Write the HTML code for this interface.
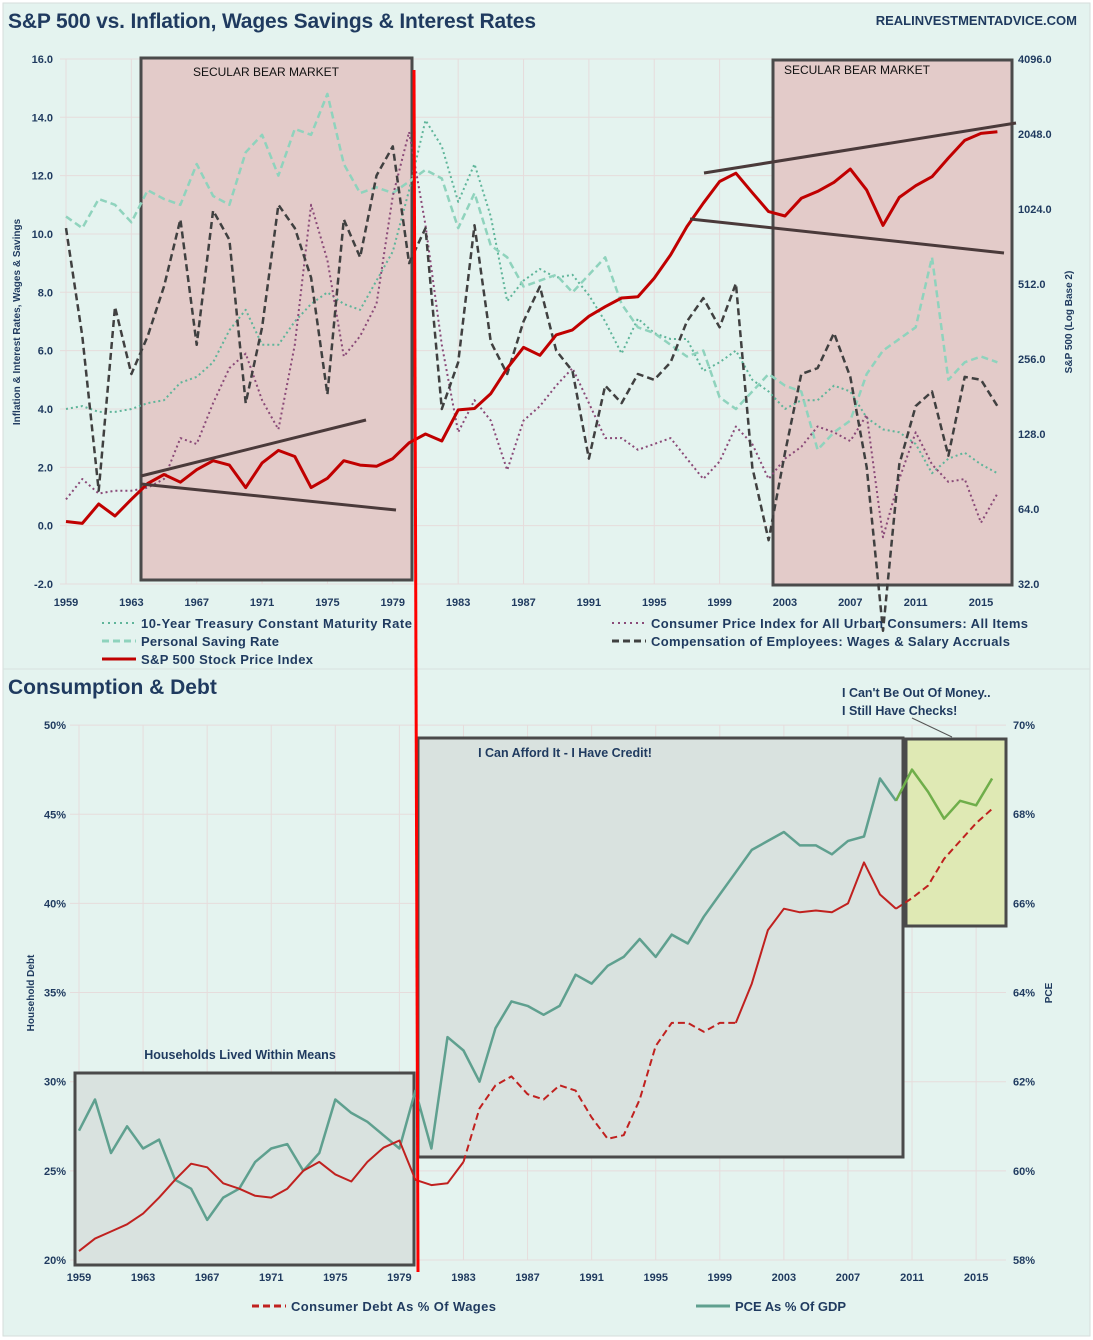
<!DOCTYPE html>
<html><head><meta charset="utf-8"><style>
body{margin:0;background:#fff;}
svg{display:block;font-family:"Liberation Sans",sans-serif;}
</style></head><body>
<svg id="c" width="1093" height="1340" viewBox="0 0 1093 1340" xmlns="http://www.w3.org/2000/svg">
<rect x="3" y="3" width="1087" height="1333" fill="#e4f3ef" stroke="#d6dedb"/>
<line x1="3" y1="669" x2="1090" y2="669" stroke="#d8e2df"/>
<text x="8" y="28" font-size="21" font-weight="bold" fill="#1f3a5f" textLength="528">S&amp;P 500 vs. Inflation, Wages Savings &amp; Interest Rates</text>
<text x="1077" y="25" font-size="13" font-weight="bold" fill="#1f3a5f" text-anchor="end">REALINVESTMENTADVICE.COM</text>
<text x="8" y="694" font-size="21" font-weight="bold" fill="#1f3a5f">Consumption &amp; Debt</text>
<g id="grid"></g>
<g id="boxes">
<rect x="141" y="58" width="271" height="522" fill="#e3cbc9" stroke="#4a4a4a" stroke-width="3"/>
<rect x="773" y="60" width="239" height="525" fill="#e3cbc9" stroke="#4a4a4a" stroke-width="3"/>
<text x="266" y="76" font-size="12" text-anchor="middle" fill="#111">SECULAR BEAR MARKET</text>
<text x="857" y="74" font-size="12" text-anchor="middle" fill="#111">SECULAR BEAR MARKET</text>
<rect x="75" y="1073" width="339" height="192" fill="#d9e2df" stroke="#4a4a4a" stroke-width="3"/>
<rect x="418" y="738" width="485" height="419" fill="#d9e2df" stroke="#4a4a4a" stroke-width="3"/>
<rect x="906" y="739" width="100" height="187" fill="#dfe9b4" stroke="#4a4a4a" stroke-width="3"/>
<text x="240" y="1059" font-size="12.5" font-weight="bold" text-anchor="middle" fill="#1f3a5f">Households Lived Within Means</text>
<text x="565" y="757" font-size="12.5" font-weight="bold" text-anchor="middle" fill="#1f3a5f">I Can Afford It - I Have Credit!</text>
<text x="842" y="697" font-size="12.5" font-weight="bold" fill="#1f3a5f">I Can't Be Out Of Money..</text>
<text x="842" y="715" font-size="12.5" font-weight="bold" fill="#1f3a5f">I Still Have Checks!</text>
<line x1="912" y1="718" x2="952" y2="737" stroke="#555"/>
</g>
<g id="series"></g>
<g id="trend">
<line x1="141" y1="476" x2="366" y2="420" stroke="#4a3a3a" stroke-width="3"/>
<line x1="141" y1="484" x2="396" y2="510" stroke="#4a3a3a" stroke-width="3"/>
<line x1="704" y1="173" x2="1016" y2="123" stroke="#4a3a3a" stroke-width="3"/>
<line x1="690" y1="219" x2="1004" y2="253" stroke="#4a3a3a" stroke-width="3"/>
</g>
<line x1="414" y1="70" x2="418" y2="1272" stroke="#ff0000" stroke-width="3"/>
<g id="axes" font-size="11" font-weight="bold" fill="#1f3a5f"></g>
<text transform="translate(20,322) rotate(-90)" font-size="10" font-weight="bold" fill="#1f3a5f" text-anchor="middle">Inflation &amp; Interest Rates, Wages &amp; Savings</text>
<text transform="translate(1072,322) rotate(-90)" font-size="10" font-weight="bold" fill="#1f3a5f" text-anchor="middle">S&amp;P 500 (Log Base 2)</text>
<text transform="translate(34,993) rotate(-90)" font-size="10" font-weight="bold" fill="#1f3a5f" text-anchor="middle">Household Debt</text>
<text transform="translate(1052,993) rotate(-90)" font-size="10" font-weight="bold" fill="#1f3a5f" text-anchor="middle">PCE</text>
<g id="legend" font-size="13" font-weight="bold" fill="#1f3a5f">
<line x1="102" y1="623" x2="136" y2="623" stroke="#5fb59a" stroke-width="2" stroke-dasharray="2,4"/>
<text x="141" y="628" textLength="271">10-Year Treasury Constant Maturity Rate</text>
<line x1="102" y1="641" x2="136" y2="641" stroke="#8fd3bd" stroke-width="3" stroke-dasharray="7,4"/>
<text x="141" y="646" textLength="138">Personal Saving Rate</text>
<line x1="102" y1="659" x2="136" y2="659" stroke="#c00000" stroke-width="3"/>
<text x="141" y="664" textLength="172">S&amp;P 500 Stock Price Index</text>
<line x1="612" y1="623" x2="646" y2="623" stroke="#8a4a78" stroke-width="2" stroke-dasharray="2,4"/>
<text x="651" y="628" textLength="377">Consumer Price Index for All Urban Consumers: All Items</text>
<line x1="612" y1="641" x2="646" y2="641" stroke="#404040" stroke-width="3" stroke-dasharray="7,4"/>
<text x="651" y="646" textLength="359">Compensation of Employees: Wages &amp; Salary Accruals</text>
<line x1="252" y1="1306" x2="286" y2="1306" stroke="#c0211f" stroke-width="3" stroke-dasharray="7,4"/>
<text x="291" y="1311" textLength="205">Consumer Debt As % Of Wages</text>
<line x1="696" y1="1306" x2="730" y2="1306" stroke="#5fa08f" stroke-width="3"/>
<text x="735" y="1311" textLength="111">PCE As % Of GDP</text>
</g>
</svg>
<script>
const years = [1959,1960,1961,1962,1963,1964,1965,1966,1967,1968,1969,1970,1971,1972,1973,1974,1975,1976,1977,1978,1979,1980,1981,1982,1983,1984,1985,1986,1987,1988,1989,1990,1991,1992,1993,1994,1995,1996,1997,1998,1999,2000,2001,2002,2003,2004,2005,2006,2007,2008,2009,2010,2011,2012,2013,2014,2015,2016];
const treasury = [4.0,4.1,3.9,3.9,4.0,4.2,4.3,4.9,5.1,5.6,6.7,7.4,6.2,6.2,7.0,7.6,8.0,7.6,7.4,8.4,9.4,11.5,13.9,13.0,11.1,12.4,10.6,7.7,8.4,8.8,8.5,8.6,7.9,7.0,5.9,7.1,6.6,6.4,6.4,5.3,5.6,6.0,5.0,4.6,4.0,4.3,4.3,4.8,4.6,3.7,3.3,3.2,2.8,1.8,2.3,2.5,2.1,1.8];
const saving = [10.6,10.2,11.2,11.0,10.4,11.5,11.2,11.0,12.4,11.3,11.0,12.8,13.4,12.0,13.6,13.4,14.8,12.4,11.4,11.6,11.4,11.8,12.2,11.9,10.2,11.4,9.6,9.2,8.2,8.4,8.6,8.0,8.6,9.2,7.6,6.8,6.6,6.2,5.8,6.0,4.4,4.0,4.6,5.2,4.8,4.6,2.6,3.2,3.6,5.2,6.0,6.4,6.8,9.2,5.0,5.6,5.8,5.6];
const cpi = [0.9,1.6,1.1,1.2,1.2,1.3,1.6,3.0,2.8,4.2,5.4,5.9,4.3,3.3,6.2,11.0,9.1,5.8,6.5,7.6,11.3,13.5,10.3,6.2,3.2,4.3,3.6,1.9,3.6,4.1,4.8,5.4,4.2,3.0,3.0,2.6,2.8,3.0,2.3,1.6,2.2,3.4,2.8,1.6,2.3,2.7,3.4,3.2,2.9,3.8,-0.4,1.6,3.2,2.1,1.5,1.6,0.1,1.1];
const wages = [10.2,6.5,1.2,7.5,5.2,6.5,8.2,10.5,6.2,10.8,9.8,4.2,6.8,11.0,10.2,8.5,4.5,10.5,9.2,12.0,13.0,9.0,10.2,4.0,5.6,10.3,6.3,5.2,7.0,8.2,6.0,5.3,2.3,4.8,4.2,5.2,5.0,5.6,7.0,7.8,6.8,8.3,2.0,-0.5,2.5,5.2,5.4,6.6,5.1,2.0,-3.6,2.1,4.1,4.6,2.4,5.1,5.0,4.1];
const spx = [57,56,67,60,70,81,88,82,92,100,96,78,98,110,104,78,85,100,96,95,102,118,128,120,160,162,186,235,285,265,320,335,380,415,450,455,540,670,870,1080,1320,1425,1190,1000,960,1130,1205,1310,1480,1220,880,1140,1270,1380,1640,1930,2060,2090];
const pceYears = [1959,1960,1961,1962,1963,1964,1965,1966,1967,1968,1969,1970,1971,1972,1973,1974,1975,1976,1977,1978,1979,1980,1981,1982,1983,1984,1985,1986,1987,1988,1989,1990,1991,1992,1993,1994,1995,1996,1997,1998,1999,2000,2001,2002,2003,2004,2005,2006,2007,2008,2009,2010,2011,2012,2013,2014,2015,2016];
const debt = [20.5,21.2,21.6,22.0,22.6,23.5,24.5,25.4,25.2,24.3,24.0,23.6,23.5,24.0,25.0,25.5,24.8,24.4,25.5,26.3,26.7,24.5,24.2,24.3,25.5,28.5,29.8,30.3,29.3,29.0,29.8,29.5,28.0,26.8,27.0,29.0,32.0,33.3,33.3,32.8,33.3,33.3,35.5,38.5,39.7,39.5,39.6,39.5,40.0,42.3,40.5,39.7,40.3,41.0,42.5,43.5,44.5,45.3];
const pce = [60.9,61.6,60.4,61.0,60.5,60.7,59.8,59.6,58.9,59.4,59.6,60.2,60.5,60.6,60.0,60.4,61.6,61.3,61.1,60.8,60.5,61.8,60.5,63.0,62.7,62.0,63.2,63.8,63.7,63.5,63.7,64.4,64.2,64.6,64.8,65.2,64.8,65.3,65.1,65.7,66.2,66.7,67.2,67.4,67.6,67.3,67.3,67.1,67.4,67.5,68.8,68.3,69.0,68.5,67.9,68.3,68.2,68.8];
const topLeftTicks = [-2,0,2,4,6,8,10,12,14,16];
const topRightTicks = [32,64,128,256,512,1024,2048,4096];
const botLeftTicks = [20,25,30,35,40,45,50];
const botRightTicks = [58,60,62,64,66,68,70];
const xTickYears = [1959,1963,1967,1971,1975,1979,1983,1987,1991,1995,1999,2003,2007,2011,2015];

const NS='http://www.w3.org/2000/svg';
const xT = y => 66 + (y-1959)*16.34;
const yL = v => 584 - (v+2)*29.17;
const yR = v => 584 - Math.log2(v/32)*75;
const xB = y => 79 + (y-1959)*16.02;
const yBL = v => 1260 - (v-20)*17.83;
const yBR = v => 1260 - (v-58)*44.58;

function mk(tag, attrs, parent){const e=document.createElementNS(NS,tag);for(const k in attrs)e.setAttribute(k,attrs[k]);parent.appendChild(e);return e;}
const grid=document.getElementById('grid'), axes=document.getElementById('axes'), ser=document.getElementById('series');

topLeftTicks.forEach(v=>{
  const l=mk('line',{x1:60,x2:1013,y1:yL(v),y2:yL(v),stroke:'#e6dcdc','stroke-width':1},grid);
   
  const t=mk('text',{x:53,y:yL(v)+4,'text-anchor':'end'},axes); t.textContent=v.toFixed(1);
   
});
topRightTicks.forEach(v=>{
  const t=mk('text',{x:1018,y:yR(v)+4},axes); t.textContent=v.toFixed(1);
   
});
xTickYears.forEach(y=>{
  const l=mk('line',{x1:xT(y),x2:xT(y),y1:59,y2:584,stroke:'#e6dcdc'},grid);
   
  const t=mk('text',{x:xT(y),y:606,'text-anchor':'middle'},axes); t.textContent=y;
   
  const l2=mk('line',{x1:xB(y),x2:xB(y),y1:725,y2:1260,stroke:'#e6dcdc'},grid);
   
  const t2=mk('text',{x:xB(y),y:1281,'text-anchor':'middle'},axes); t2.textContent=y;
   
});
botLeftTicks.forEach(v=>{
  const l=mk('line',{x1:70,x2:1006,y1:yBL(v),y2:yBL(v),stroke:'#e6dcdc'},grid);
   
  const t=mk('text',{x:66,y:yBL(v)+4,'text-anchor':'end'},axes); t.textContent=v+'%';
   
});
botRightTicks.forEach(v=>{
  const t=mk('text',{x:1013,y:yBR(v)+4},axes); t.textContent=v+'%';
   
});

function path(xs, vs, fx, fy, style, name, from, to){
  let d='';
  xs.forEach((x,i)=>{ if((from===undefined||x>=from)&&(to===undefined||x<=to)) d+=(d?'L':'M')+fx(x).toFixed(1)+','+fy(vs[i]).toFixed(1);});
  const p=mk('path',Object.assign({d:d,fill:'none','stroke-linejoin':'round'},style),ser);
  
  
}
path(years,treasury,xT,yL,{stroke:'#5fb59a','stroke-width':2,'stroke-dasharray':'2,3'},'treasury-line');
path(years,saving,xT,yL,{stroke:'#8fd3bd','stroke-width':2.5,'stroke-dasharray':'7,4'},'saving-line');
path(years,cpi,xT,yL,{stroke:'#8a4a78','stroke-width':2,'stroke-dasharray':'2,3'},'cpi-line');
path(years,wages,xT,yL,{stroke:'#404040','stroke-width':2.5,'stroke-dasharray':'7,4'},'wages-line');
path(years,spx,xT,yR,{stroke:'#c00000','stroke-width':3},'spx-line');

path(pceYears,pce,xB,yBR,{stroke:'#5fa08f','stroke-width':2.5},'pce-line-1',1959,2010);
path(pceYears,pce,xB,yBR,{stroke:'#6fae4a','stroke-width':2.5},'pce-line-2',2010,2016);
path(pceYears,debt,xB,yBL,{stroke:'#c0211f','stroke-width':2},'debt-line-1',1959,1983);
path(pceYears,debt,xB,yBL,{stroke:'#c0211f','stroke-width':2,'stroke-dasharray':'7,4'},'debt-line-2',1983,2000);
path(pceYears,debt,xB,yBL,{stroke:'#c0211f','stroke-width':2},'debt-line-3',2000,2010);
path(pceYears,debt,xB,yBL,{stroke:'#c0211f','stroke-width':2,'stroke-dasharray':'7,4'},'debt-line-4',2010,2016);
</script>
</body></html>
